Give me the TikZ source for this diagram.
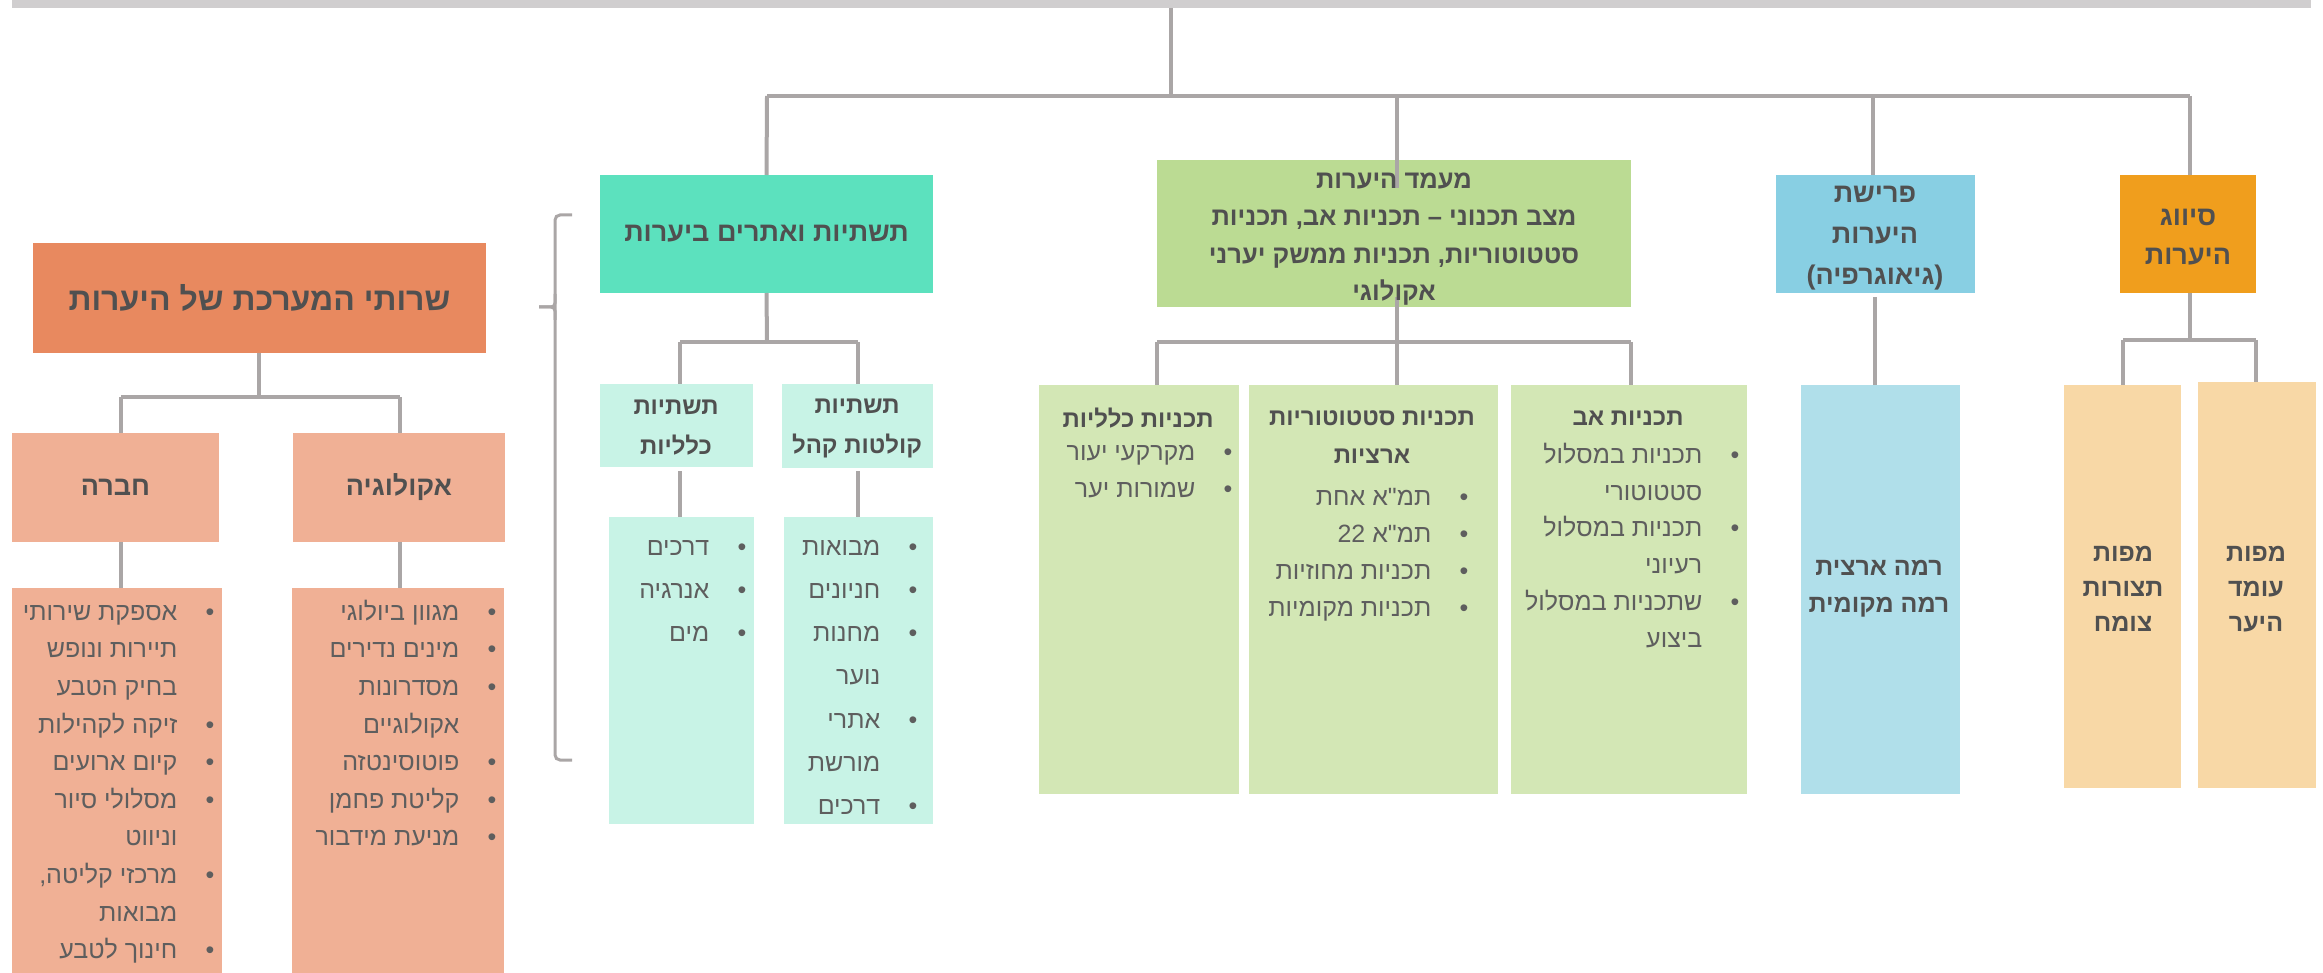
\documentclass[tikz,border=0pt]{standalone}
\usepackage{fontspec}
\setmainfont{Liberation Sans}
\newfontfamily\heb[Script=Hebrew,Ligatures=TeXOff]{Liberation Sans}
\TeXXeTstate=1
\newcommand\R[1]{\beginR#1\endR}
\newcommand\itm[1]{\R{#1}\makebox[37pt][r]{•}}
\newcommand\cnt[1]{\R{#1}\makebox[37pt]{}}
\newcommand\topr{\rule{0pt}{22pt}}
\definecolor{barc}{HTML}{D0CECF}
\definecolor{linec}{HTML}{AAA6A6}
\definecolor{txt}{HTML}{505050}
\definecolor{itxt}{HTML}{5E5E5E}
\definecolor{salmonA}{HTML}{E8895F}
\definecolor{salmonB}{HTML}{F0B095}
\definecolor{mintA}{HTML}{5CE1BE}
\definecolor{mintB}{HTML}{C8F3E6}
\definecolor{greenA}{HTML}{BBDB93}
\definecolor{greenB}{HTML}{D3E7B5}
\definecolor{blueA}{HTML}{88CFE3}
\definecolor{blueB}{HTML}{B0DFEA}
\definecolor{orangeA}{HTML}{F09E1D}
\definecolor{orangeB}{HTML}{F8D8A6}
\begin{document}
\begin{tikzpicture}[x=1pt,y=-1pt,
  boxnode/.style={inner sep=0pt,outer sep=0pt,anchor=north west,draw=none},
  conn/.style={draw=linec,line width=4pt},
  hdr/.style={inner sep=0pt,align=center,text=txt,font=\heb\bfseries\fontsize{27}{40}\selectfont},
  lst/.style={inner sep=0pt,anchor=north east,align=right,text=itxt},
]
\useasboundingbox (0,0) rectangle (2323,973);
% ---------- boxes ----------
\node[boxnode,fill=barc,minimum width=2299pt,minimum height=8pt] (bar) at (12,0) {};
\node[boxnode,fill=salmonA,minimum width=453pt,minimum height=110pt] (title) at (33,243) {};
\node[boxnode,fill=salmonB,minimum width=207pt,minimum height=109pt] (hevra) at (12,433) {};
\node[boxnode,fill=salmonB,minimum width=212pt,minimum height=109pt] (ekol) at (293,433) {};
\node[boxnode,fill=salmonB,minimum width=210pt,minimum height=385pt] (hevraL) at (12,588) {};
\node[boxnode,fill=salmonB,minimum width=212pt,minimum height=385pt] (ekolL) at (292,588) {};
\node[boxnode,fill=mintA,minimum width=333pt,minimum height=118pt] (teal) at (600,175) {};
\node[boxnode,fill=mintB,minimum width=153pt,minimum height=83pt] (tkl) at (600,384) {};
\node[boxnode,fill=mintB,minimum width=151pt,minimum height=84pt] (tkk) at (782,384) {};
\node[boxnode,fill=mintB,minimum width=145pt,minimum height=307pt] (tklL) at (609,517) {};
\node[boxnode,fill=mintB,minimum width=149pt,minimum height=307pt] (tkkL) at (784,517) {};
\node[boxnode,fill=greenA,minimum width=474pt,minimum height=147pt] (green) at (1157,160) {};
\node[boxnode,fill=greenB,minimum width=200pt,minimum height=409pt] (gk) at (1039,385) {};
\node[boxnode,fill=greenB,minimum width=249pt,minimum height=409pt] (gs) at (1249,385) {};
\node[boxnode,fill=greenB,minimum width=236pt,minimum height=409pt] (ga) at (1511,385) {};
\node[boxnode,fill=blueA,minimum width=199pt,minimum height=118pt] (blue) at (1776,175) {};
\node[boxnode,fill=blueB,minimum width=159pt,minimum height=409pt] (bl2) at (1801,385) {};
\node[boxnode,fill=orangeA,minimum width=136pt,minimum height=118pt] (orange) at (2120,175) {};
\node[boxnode,fill=orangeB,minimum width=117pt,minimum height=403pt] (o1) at (2064,385) {};
\node[boxnode,fill=orangeB,minimum width=118pt,minimum height=406pt] (o2) at (2198,382) {};
% ---------- connectors ----------
\coordinate (j0) at (1171,96);
\coordinate (jL) at (767,96);
\coordinate (jR) at (2190,96);
\draw[conn] (bar.south -| j0) -- (j0);
\draw[conn] (jL) -- (jR);
\draw[conn] (jL) -- (teal.north);
\coordinate (gin) at (1397,188);
\draw[conn] (1397,96) -- (gin);
\draw[conn] (1873,96) -- (blue.north -| 1873,0);
\draw[conn] (jR) -- (orange.north -| jR);
% left subtree
\coordinate (tj) at (259,397);
\draw[conn] (title.south -| tj) -- (tj);
\draw[conn] (121,397) -- (400,397);
\draw[conn] (121,397) -- (hevra.north -| 121,0);
\draw[conn] (400,397) -- (ekol.north -| 400,0);
\draw[conn] (hevra.south -| 121,0) -- (hevraL.north -| 121,0);
\draw[conn] (ekol.south -| 400,0) -- (ekolL.north -| 400,0);
% teal subtree
\coordinate (mj) at (767,342);
\draw[conn] (teal.south) -- (mj);
\draw[conn] (680,342) -- (858,342);
\draw[conn] (680,342) -- (tkl.north -| 680,0);
\draw[conn] (858,342) -- (tkk.north -| 858,0);
\draw[conn] (680,471) -- (tklL.north -| 680,0);
\draw[conn] (858,471) -- (tkkL.north -| 858,0);
% green subtree
\coordinate (gj) at (1397,342);
\draw[conn] (1397,297) -- (gj);
\draw[conn] (1157,342) -- (1631,342);
\draw[conn] (1157,342) -- (gk.north -| 1157,0);
\draw[conn] (gj) -- (gs.north -| gj);
\draw[conn] (1631,342) -- (ga.north -| 1631,0);
% blue subtree
\draw[conn] (1875,297) -- (bl2.north -| 1875,0);
% orange subtree
\coordinate (oj) at (2190,340);
\draw[conn] (orange.south -| oj) -- (oj);
\draw[conn] (2123,340) -- (2256,340);
\draw[conn] (2123,340) -- (o1.north -| 2123,0);
\draw[conn] (2256,340) -- (o2.north -| 2256,0);
% bracket
\draw[draw=linec,line width=3pt,rounded corners=5pt] (572,215) -- (555,215) -- (555,760) -- (572,760);
\draw[draw=linec,line width=3pt,rounded corners=4pt] (539,307) -- (555,307) -- (555,320);
\draw[draw=linec,line width=3pt,rounded corners=4pt] (539,307) -- (555,307) -- (555,294);
% ---------- header texts ----------
\node[hdr,font=\heb\bfseries\fontsize{32}{40}\selectfont] (titleT) at (title.center) {\R{שרותי המערכת של היערות}};
\node[hdr] (hevraT) at (hevra.center) {\R{חברה}};
\node[hdr] (ekolT) at (ekol.center) {\R{אקולוגיה}};
\node[hdr] (tealT) at (teal.center) {\R{תשתיות ואתרים ביערות}};
\node[hdr,font=\heb\bfseries\fontsize{24}{40}\selectfont] (tklT) at (676,428) {\R{תשתיות}\\\R{כלליות}};
\node[hdr,font=\heb\bfseries\fontsize{24}{40}\selectfont] (tkkT) at (857,428) {\R{תשתיות}\\\R{קולטות קהל}};
\node[hdr,font=\heb\bfseries\fontsize{25.5}{37.5}\selectfont] (greenT) at (1394,239) {\R{מעמד היערות}\\\R{מצב תכנוני – תכניות אב, תכניות}\\\R{סטטוטוריות, תכניות ממשק יערני}\\\R{אקולוגי}};
\node[hdr,font=\heb\bfseries\fontsize{27}{41}\selectfont] (blueT) at (1875,238) {\R{פרישת}\\\R{היערות}\\\R{(גיאוגרפיה)}};
\node[hdr,font=\heb\bfseries\fontsize{27}{39}\selectfont] (orangeT) at (2188,237) {\R{סיווג}\\\R{היערות}};
\node[hdr,font=\heb\bfseries\fontsize{25}{37}\selectfont] (bl2T) at (1879,589) {\R{רמה ארצית}\\\R{רמה מקומית}};
\node[hdr,font=\heb\bfseries\fontsize{25}{35}\selectfont] (o1T) at (2123,589) {\R{מפות}\\\R{תצורות}\\\R{צומח}};
\node[hdr,font=\heb\bfseries\fontsize{25}{35}\selectfont] (o2T) at (2256,589) {\R{מפות}\\\R{עומד}\\\R{היער}};
\node[hdr,font=\heb\bfseries\fontsize{24}{38}\selectfont] (gkT) at (1138,418) {\R{תכניות כלליות}};
\node[hdr,font=\heb\bfseries\fontsize{24}{38}\selectfont] (gsT) at (1372,437) {\R{תכניות סטטוטוריות}\\\R{ארציות}};
\node[hdr,font=\heb\bfseries\fontsize{24}{38}\selectfont] (gaT) at (1628,418) {\R{תכניות אב}};
% ---------- lists ----------
\node[lst,font=\heb\fontsize{25}{37.6}\selectfont] (hevraI) at (214.5,598) {\topr\itm{אספקת שירותי}\\\cnt{תיירות ונופש}\\\cnt{בחיק הטבע}\\\itm{זיקה לקהילות}\\\itm{קיום ארועים}\\\itm{מסלולי סיור}\\\cnt{וניווט}\\\itm{מרכזי קליטה,}\\\cnt{מבואות}\\\itm{חינוך לטבע}};
\node[lst,font=\heb\fontsize{25}{37.6}\selectfont] (ekolI) at (496.5,598) {\topr\itm{מגוון ביולוגי}\\\itm{מינים נדירים}\\\itm{מסדרונות}\\\cnt{אקולוגיים}\\\itm{פוטוסינטזה}\\\itm{קליטת פחמן}\\\itm{מניעת מידבור}};
\node[lst,font=\heb\fontsize{25}{43.2}\selectfont] (tklI) at (746.5,533) {\topr\itm{דרכים}\\\itm{אנרגיה}\\\itm{מים}};
\node[lst,font=\heb\fontsize{25}{43.2}\selectfont] (tkkI) at (917.5,533) {\topr\itm{מבואות}\\\itm{חניונים}\\\itm{מחנות}\\\cnt{נוער}\\\itm{אתרי}\\\cnt{מורשת}\\\itm{דרכים}};
\node[lst,font=\heb\fontsize{25}{37}\selectfont] (gkI) at (1232.5,438) {\topr\itm{מקרקעי יעור}\\\itm{שמורות יער}};
\node[lst,font=\heb\fontsize{25}{37}\selectfont] (gsI) at (1468.5,483) {\topr\itm{תמ"א אחת}\\\itm{תמ"א 22}\\\itm{תכניות מחוזיות}\\\itm{תכניות מקומיות}};
\node[lst,font=\heb\fontsize{25}{36.8}\selectfont] (gaI) at (1739.5,441) {\topr\itm{תכניות במסלול}\\\cnt{סטטוטורי}\\\itm{תכניות במסלול}\\\cnt{רעיוני}\\\itm{שתכניות במסלול}\\\cnt{ביצוע}};
\end{tikzpicture}
\end{document}
